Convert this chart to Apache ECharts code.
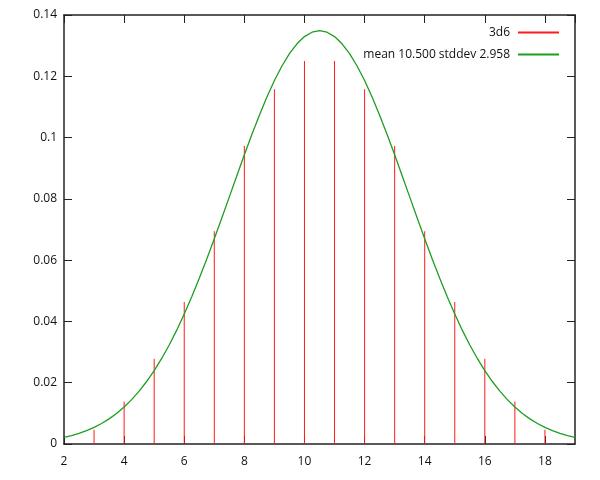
<!DOCTYPE html>
<html>
<head>
<meta charset="utf-8">
<script src="https://cdn.jsdelivr.net/npm/echarts@6/dist/echarts.min.js"></script>
<style>html,body{margin:0;padding:0;background:#fff}#c{width:600px;height:480px}</style>
</head>
<body>
<div id="c"></div>
<script>
// 3d6 outcome probabilities (impulses)
const diceSums = [3,4,5,6,7,8,9,10,11,12,13,14,15,16,17,18];
const diceProb = [0.00463,0.01389,0.02778,0.04630,0.06944,0.09722,0.11574,0.12500,0.12500,0.11574,0.09722,0.06944,0.04630,0.02778,0.01389,0.00463];

// fitted normal curve
const curveX = [2,2.25,2.5,2.75,3,3.25,3.5,3.75,4,4.25,4.5,4.75,5,5.25,5.5,5.75,6,6.25,6.5,6.75,7,7.25,7.5,7.75,8,8.25,8.5,8.75,9,9.25,9.5,9.75,10,10.25,10.5,10.75,11,11.25,11.5,11.75,12,12.25,12.5,12.75,13,13.25,13.5,13.75,14,14.25,14.5,14.75,15,15.25,15.5,15.75,16,16.25,16.5,16.75,17,17.25,17.5,17.75,18,18.25,18.5,18.75,19];
const curveY = [0.00217,0.00276,0.00348,0.00436,0.00542,0.00669,0.00820,0.00998,0.01206,0.01447,0.01724,0.02039,0.02394,0.02792,0.03232,0.03715,0.04240,0.04805,0.05406,0.06038,0.06697,0.07375,0.08064,0.08754,0.09437,0.10099,0.10731,0.11322,0.11860,0.12335,0.12738,0.13060,0.13296,0.13439,0.13487,0.13439,0.13296,0.13060,0.12738,0.12335,0.11860,0.11322,0.10731,0.10099,0.09437,0.08754,0.08064,0.07375,0.06697,0.06038,0.05406,0.04805,0.04240,0.03715,0.03232,0.02792,0.02394,0.02039,0.01724,0.01447,0.01206,0.00998,0.00820,0.00669,0.00542,0.00436,0.00348,0.00276,0.00217];

const seriesNames = ['3d6', 'mean 10.500 stddev 2.958'];
const xMin = 2, xMax = 19, xStep = 2;
const yMin = 0, yMax = 0.14, yStep = 0.02;

const FONT = '"Open Sans", "Noto Sans", sans-serif';
const AX = '#222';
const chart = echarts.init(document.getElementById('c'), null, {renderer: 'canvas'});

function axisBase(show) {
  return {
    axisLine: {show: true, onZero: false, lineStyle: {color: AX, width: 1.5}},
    axisTick: {show: true, inside: true, length: 8, lineStyle: {color: AX, width: 1}},
    splitLine: {show: false},
    axisLabel: {show: show, color: '#111', fontFamily: FONT, fontSize: 12}
  };
}

chart.setOption({
  animation: false,
  backgroundColor: '#fff',
  grid: {left: 64, right: 25, top: 15, bottom: 36, containLabel: false},
  legend: {
    orient: 'vertical',
    right: 41,
    top: 25,
    padding: 0,
    align: 'right',
    itemWidth: 41,
    itemHeight: 2,
    itemGap: 7,
    icon: 'rect',
    textStyle: {color: '#111', fontFamily: FONT, fontSize: 12, lineHeight: 15, padding: [0, 3, 0, 0]},
    data: seriesNames
  },
  xAxis: [
    Object.assign(axisBase(true), {
      type: 'value', min: xMin, max: xMax, interval: xStep, position: 'bottom',
      axisLabel: Object.assign(axisBase(true).axisLabel, {margin: 12, showMaxLabel: false})
    }),
    Object.assign(axisBase(false), {
      type: 'value', min: xMin, max: xMax, interval: xStep, position: 'top'
    })
  ],
  yAxis: [
    Object.assign(axisBase(true), {
      type: 'value', min: yMin, max: yMax, interval: yStep, position: 'left',
      axisLabel: Object.assign(axisBase(true).axisLabel, {margin: 7, formatter: v => String(+v.toFixed(2))})
    }),
    Object.assign(axisBase(false), {
      type: 'value', min: yMin, max: yMax, interval: yStep, position: 'right'
    })
  ],
  series: [
    {
      name: seriesNames[0],
      type: 'bar',
      barWidth: 1,
      itemStyle: {color: '#ff1a1a'},
      data: diceSums.map((x, i) => [x, diceProb[i]])
    },
    {
      name: seriesNames[1],
      type: 'line',
      showSymbol: false,
      symbol: 'none',
      lineStyle: {color: '#1e9e1e', width: 1.3},
      itemStyle: {color: '#1e9e1e'},
      data: curveX.map((x, i) => [x, curveY[i]])
    }
  ]
});
</script>
</body>
</html>
